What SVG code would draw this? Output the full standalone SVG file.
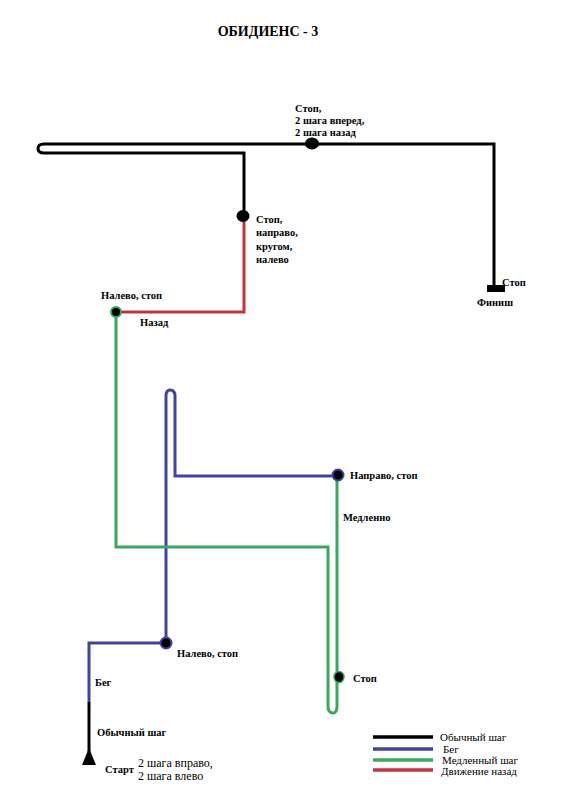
<svg xmlns="http://www.w3.org/2000/svg" width="575" height="800" viewBox="0 0 575 800">
<style>
.ln{fill:none;stroke-width:3;stroke-linejoin:miter}
.k{stroke:#000}
.b{stroke:#4043a3}
.g{stroke:#38a85a}
.r{stroke:#c8323f}
.t{font-family:"Liberation Serif",serif;font-size:10.5px;font-weight:bold;fill:#000}
.l{font-family:"Liberation Serif",serif;font-size:12px;fill:#000}
</style>
<rect width="575" height="800" fill="#fff"/>
<text x="268" y="36" text-anchor="middle" style="font-family:'Liberation Serif',serif;font-size:14px;font-weight:bold">ОБИДИЕНС - 3</text>
<g id="connectors">
<path class="ln k" d="M89,756 V702"/>
<path class="ln b" d="M89,702 V643 H166 V396 Q166,390 170,390 Q175,390 175,396 V476 H337"/>
<path class="ln g" d="M337,476 V706 Q337,713 333,713 Q328,713 328,706 V547 H116 V312"/>
<path class="ln r" d="M116,312 H244 V218"/>
<path class="ln k" d="M244,218 V153 H44 Q38,153 38,148.5 Q38,144 44,144 H494 V289"/>
<line class="ln k" x1="373" y1="737" x2="433" y2="737" style="stroke-width:3.5"/>
<line class="ln b" x1="373" y1="749" x2="433" y2="749" style="stroke-width:3.5"/>
<line class="ln g" x1="373" y1="760" x2="433" y2="760" style="stroke-width:3.5"/>
<line class="ln r" x1="373" y1="770" x2="433" y2="770" style="stroke-width:3.5"/>
</g>
<g id="start">
<polygon points="89,748 82,765 96,765" fill="#000"/>
<text class="t" x="105" y="773">Старт</text>
<text class="l" x="138" y="767">2 шага вправо,</text>
<text class="l" x="138" y="780">2 шага влево</text>
</g>
<g id="normal-label"><text class="t" x="97" y="736">Обычный шаг</text></g>
<g id="run-label"><text class="t" x="95" y="686">Бег</text></g>
<g id="left-stop-1">
<circle cx="166" cy="643" r="5.5" fill="#000" stroke="#4043a3" stroke-width="2"/>
<text class="t" x="177" y="657">Налево, стоп</text>
</g>
<g id="right-stop">
<circle cx="338" cy="475" r="5.5" fill="#000" stroke="#4043a3" stroke-width="2"/>
<text class="t" x="350" y="479">Направо, стоп</text>
</g>
<g id="slow-label"><text class="t" x="343" y="521">Медленно</text></g>
<g id="stop-green">
<ellipse cx="339" cy="677" rx="5" ry="5.5" fill="#000" stroke="#38a85a" stroke-width="1.5"/>
<text class="t" x="353" y="682">Стоп</text>
</g>
<g id="left-stop-2">
<circle cx="116" cy="312" r="5" fill="#000" stroke="#38a85a" stroke-width="2"/>
<text class="t" x="101" y="299">Налево, стоп</text>
<text class="t" x="140" y="326">Назад</text>
</g>
<g id="stop-turn">
<ellipse cx="243" cy="216" rx="6.5" ry="6" fill="#000"/>
<text class="t" x="256" y="223">Стоп,</text>
<text class="t" x="256" y="236">направо,</text>
<text class="t" x="256" y="250">кругом,</text>
<text class="t" x="256" y="263">налево</text>
</g>
<g id="stop-top">
<ellipse cx="312" cy="143.5" rx="7" ry="6" fill="#000"/>
<text class="t" x="295" y="112">Стоп,</text>
<text class="t" x="295" y="124">2 шага вперед,</text>
<text class="t" x="295" y="136">2 шага назад</text>
</g>
<g id="finish">
<rect x="487" y="285" width="18" height="7" fill="#000"/>
<text class="t" x="502" y="286">Стоп</text>
<text class="t" x="477" y="306">Финиш</text>
</g>
<g id="legend">
<text class="l" x="440" y="741" style="font-size:11px">Обычный шаг</text>
<text class="l" x="443" y="753" style="font-size:11px">Бег</text>
<text class="l" x="442" y="764" style="font-size:11px">Медленный шаг</text>
<text class="l" x="441" y="775" style="font-size:11px">Движение назад</text>
</g>
</svg>
